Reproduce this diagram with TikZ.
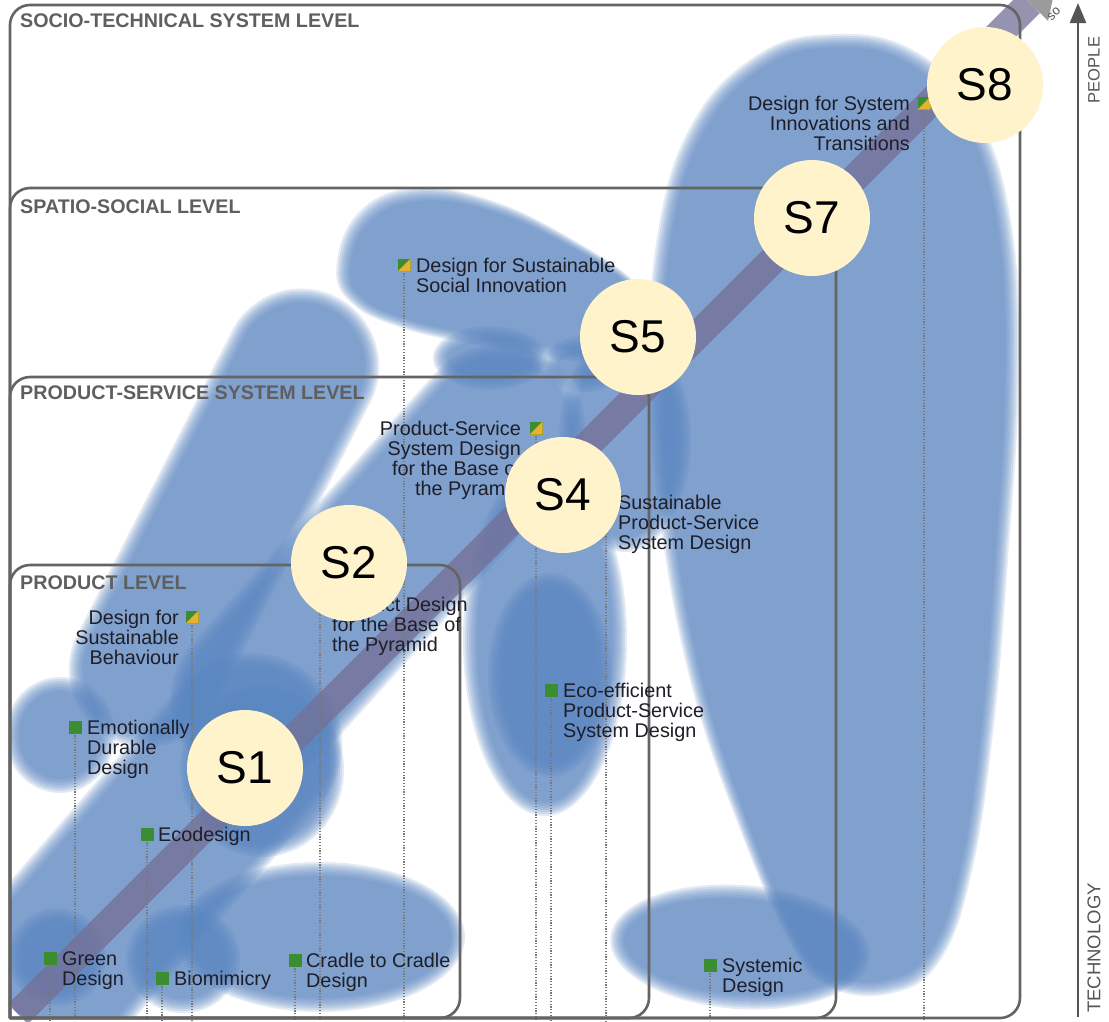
\documentclass[tikz,border=0pt]{standalone}
\usepackage{fontspec}
\setmainfont{Liberation Sans}
\usetikzlibrary{arrows.meta}
\definecolor{blobc}{RGB}{92,136,194}
\definecolor{lvlgray}{RGB}{100,100,100}
\definecolor{titlegray}{RGB}{95,95,95}
\definecolor{sqgreen}{RGB}{60,140,50}
\definecolor{sqyellow}{RGB}{232,178,48}
\definecolor{circfill}{RGB}{255,243,204}
\definecolor{bandc}{RGB}{116,111,150}
\definecolor{headgray}{RGB}{155,155,155}
\definecolor{txt}{RGB}{30,30,40}
\definecolor{dotgray}{RGB}{120,120,120}
\definecolor{axisc}{RGB}{85,85,85}
\newcommand\blobsteps{0,2,4,6,8,10,12,14}
\newcommand\blobop{0.17}
\newcommand\blobpts[4]{\foreach \dd in \blobsteps {\fill[blobc, fill opacity=\blobop, shift={#1}, xscale={(#2+\dd)/#2}, yscale={(#3+\dd)/#3}] plot[smooth cycle, tension=0.7] coordinates {#4};}}
\newcommand\blobell[4]{\foreach \dd in \blobsteps {\fill[blobc, fill opacity=\blobop, shift={#1}, rotate=#4] (0,0) ellipse [x radius={#2+\dd}, y radius={#3+\dd}];}}
\newcommand\blobstad[4]{\foreach \dd in \blobsteps {\pgfmathsetmacro\blobR{#3+\dd}\pgfmathsetmacro\blobL{#2+#3+\dd}\fill[blobc, fill opacity=\blobop, shift={#1}, rotate=#4, rounded corners=\blobR pt] (-\blobL,-\blobR) rectangle (\blobL,\blobR);}}
\begin{document}
\begin{tikzpicture}[x=1pt,y=-1pt,
  lvl/.style={draw=lvlgray, line width=2.6pt, line cap=round, rounded corners=20pt},
  dotl/.style={draw=dotgray, line width=1.1pt, dash pattern=on 1.2pt off 1.6pt},
  lbl/.style={font=\fontsize{19.8}{20}\selectfont, text=txt, inner sep=0pt},
  ttl/.style={font=\fontsize{19.7}{20}\selectfont\bfseries, text=titlegray, inner sep=0pt, anchor=base west},
  scirc/.style={circle, fill=circfill, minimum size=116pt, inner sep=0pt, font=\fontsize{46}{46}\selectfont},
  gsq/.style={rectangle, fill=sqgreen, minimum size=13pt, inner sep=0pt},
  splitsq/.style={gsq, path picture={\fill[sqyellow] (path picture bounding box.north east) -- (path picture bounding box.south east) -- (path picture bounding box.south west) -- cycle;}},
  axlbl/.style={text=axisc, inner sep=0pt, rotate=90}
]
\useasboundingbox (0,0) rectangle (1109,1021);
\fill[white] (0,0) rectangle (1109,1021);

% ---------- blobs ----------
\begin{scope}
\clip[rounded corners=18pt] (11,1017) rectangle (1019,6);
\blobpts{(835,510)}{175}{475}{(-5,-462) (70,-448) (130,-386) (163,-280) (170,-130) (160,50) (147,210) (127,350) (97,438) (50,470) (-8,462) (-42,420) (-88,310) (-133,170) (-162,10) (-172,-130) (-164,-270) (-132,-376) (-72,-442)}
\blobpts{(500,275)}{155}{80}{(-150,-7) (-130,-53) (-80,-74) (-10,-64) (65,-31) (128,10) (152,52) (118,74) (55,72) (-20,60) (-90,45) (-136,24)}
\blobell{(490,358)}{43}{18}{0}
\blobell{(585,364)}{28}{14}{0}
\blobstad{(224,518)}{170}{64}{63}
\blobstad{(378,565)}{182}{72}{48}
\blobell{(625,440)}{52}{98}{0}
\blobell{(545,640)}{68}{162}{0}
\blobell{(550,675)}{48}{88}{0}
\blobell{(262,770)}{68}{73}{0}
\blobstad{(152,858)}{150}{78}{49}
\blobell{(57,957)}{35}{35}{0}
\blobell{(183,959)}{43}{40}{0}
\blobell{(320,937)}{131}{61}{0}
\blobell{(60,735)}{41}{44}{0}
\blobell{(740,947)}{116}{48}{-4}
\end{scope}

% ---------- diagonal band ----------
\coordinate (bandA) at (18,1014);
\coordinate (bandB) at (1030,3);
\draw[bandc, draw opacity=0.75, line width=28pt] (bandA) -- (bandB);
\coordinate (hd1) at (1048,21);
\coordinate (hd2) at (1012,-15);
\coordinate (hd3) at (1058,-25);
\fill[headgray] (hd1) -- (hd2) -- (hd3) -- cycle;
\node[font=\fontsize{13}{13}\selectfont, text=axisc, rotate=45, inner sep=0pt] (soc) at (1054,14) {so};

% ---------- square positions and dotted lines ----------
\coordinate (bot) at (0,1021);
\coordinate (cGreen) at (50,958);
\coordinate (cBio) at (162,978);
\coordinate (cCradle) at (295,960);
\coordinate (cEco) at (147,834);
\coordinate (cEmo) at (75,727);
\coordinate (cDfSB) at (192,617);
\coordinate (cPDBoP) at (320,604);
\coordinate (cEcoPSS) at (551,690);
\coordinate (cPSSBoP) at (536,428);
\coordinate (cSPSS) at (606,500);
\coordinate (cDfSSI) at (404,265);
\coordinate (cDfSIT) at (924,103);
\coordinate (cSys) at (710,965);
\foreach \c in {cGreen,cBio,cCradle,cEco,cEmo,cDfSB,cPDBoP,cEcoPSS,cPSSBoP,cSPSS,cDfSSI,cDfSIT,cSys}{
  \draw[dotl] (\c) -- (\c |- bot);
}

% ---------- level boxes ----------
\draw[lvl] (10,1018) -- (10,5) -- (1020,5) -- (1020,1018) -- (10,1018);
\draw[lvl] (10,1018) -- (10,188) -- (836,188) -- (836,1018) -- (10,1018);
\draw[lvl] (10,1018) -- (10,377) -- (649,377) -- (649,1018) -- (10,1018);
\draw[lvl] (10,1018) -- (10,565) -- (460,565) -- (460,1018) -- (10,1018);

\node[ttl] (tSocio) at (20,27) {SOCIO-TECHNICAL SYSTEM LEVEL};
\node[ttl] (tSpatio) at (20,213) {SPATIO-SOCIAL LEVEL};
\node[ttl] (tPSS) at (20,399) {PRODUCT-SERVICE SYSTEM LEVEL};
\node[ttl] (tProd) at (20,589) {PRODUCT LEVEL};

% ---------- squares ----------
\node[gsq] (sGreen) at (cGreen) {};
\node[gsq] (sBio) at (cBio) {};
\node[gsq] (sCradle) at (cCradle) {};
\node[gsq] (sEco) at (cEco) {};
\node[gsq] (sEmo) at (cEmo) {};
\node[splitsq] (sDfSB) at (cDfSB) {};
\node[splitsq] (sPDBoP) at (cPDBoP) {};
\node[gsq] (sEcoPSS) at (cEcoPSS) {};
\node[splitsq] (sPSSBoP) at (cPSSBoP) {};
\node[gsq] (sSPSS) at (cSPSS) {};
\node[splitsq] (sDfSSI) at (cDfSSI) {};
\node[splitsq] (sDfSIT) at (cDfSIT) {};
\node[gsq] (sSys) at (cSys) {};

% ---------- labels ----------
\node[lbl, anchor=north west, align=left] (lGreen) at (62,951) {Green\\Design};
\node[lbl, anchor=north west, align=left] (lBio) at (174,971) {Biomimicry};
\node[lbl, anchor=north west, align=left] (lCradle) at (306,953) {Cradle to Cradle\\Design};
\node[lbl, anchor=north west, align=left] (lEco) at (158,827) {Ecodesign};
\node[lbl, anchor=north west, align=left] (lEmo) at (87,720) {Emotionally\\Durable\\Design};
\node[lbl, anchor=north east, align=right] (lDfSB) at (179,610) {Design for\\Sustainable\\Behaviour};
\node[lbl, anchor=north west, align=left] (lPDBoP) at (332,597) {Product Design\\for the Base of\\the Pyramid};
\node[lbl, anchor=north east, align=right] (lPSSBoP) at (521,421) {Product-Service\\System Design\\for the Base of\\the Pyramid};
\node[lbl, anchor=north west, align=left] (lSPSS) at (618,495) {Sustainable\\Product-Service\\System Design};
\node[lbl, anchor=north west, align=left] (lEcoPSS) at (563,683) {Eco-efficient\\Product-Service\\System Design};
\node[lbl, anchor=north west, align=left] (lDfSSI) at (416,258) {Design for Sustainable\\Social Innovation};
\node[lbl, anchor=north east, align=right] (lDfSIT) at (910,96) {Design for System\\Innovations and\\Transitions};
\node[lbl, anchor=north west, align=left] (lSys) at (722,958) {Systemic\\Design};

% ---------- stage circles ----------
\node[scirc] (S1) at (245,768) {S1};
\node[scirc] (S2) at (349,563) {S2};
\node[scirc] (S4) at (563,495) {S4};
\node[scirc] (S5) at (638,337) {S5};
\node[scirc] (S7) at (812,218) {S7};
\node[scirc] (S8) at (985,85) {S8};

% ---------- vertical axis ----------
\coordinate (axB) at (1078,1017);
\coordinate (axT) at (1078,3);
\draw[axisc, line width=2.4pt, -{Triangle[width=16pt,length=20pt]}] (axB) -- (axT);
\node[axlbl, font=\fontsize{16.5}{16.5}\selectfont] (people) at (1094,70) {PEOPLE};
\node[axlbl, font=\fontsize{18.5}{18.5}\selectfont] (techno) at (1094,948) {TECHNOLOGY};
\end{tikzpicture}
\end{document}
